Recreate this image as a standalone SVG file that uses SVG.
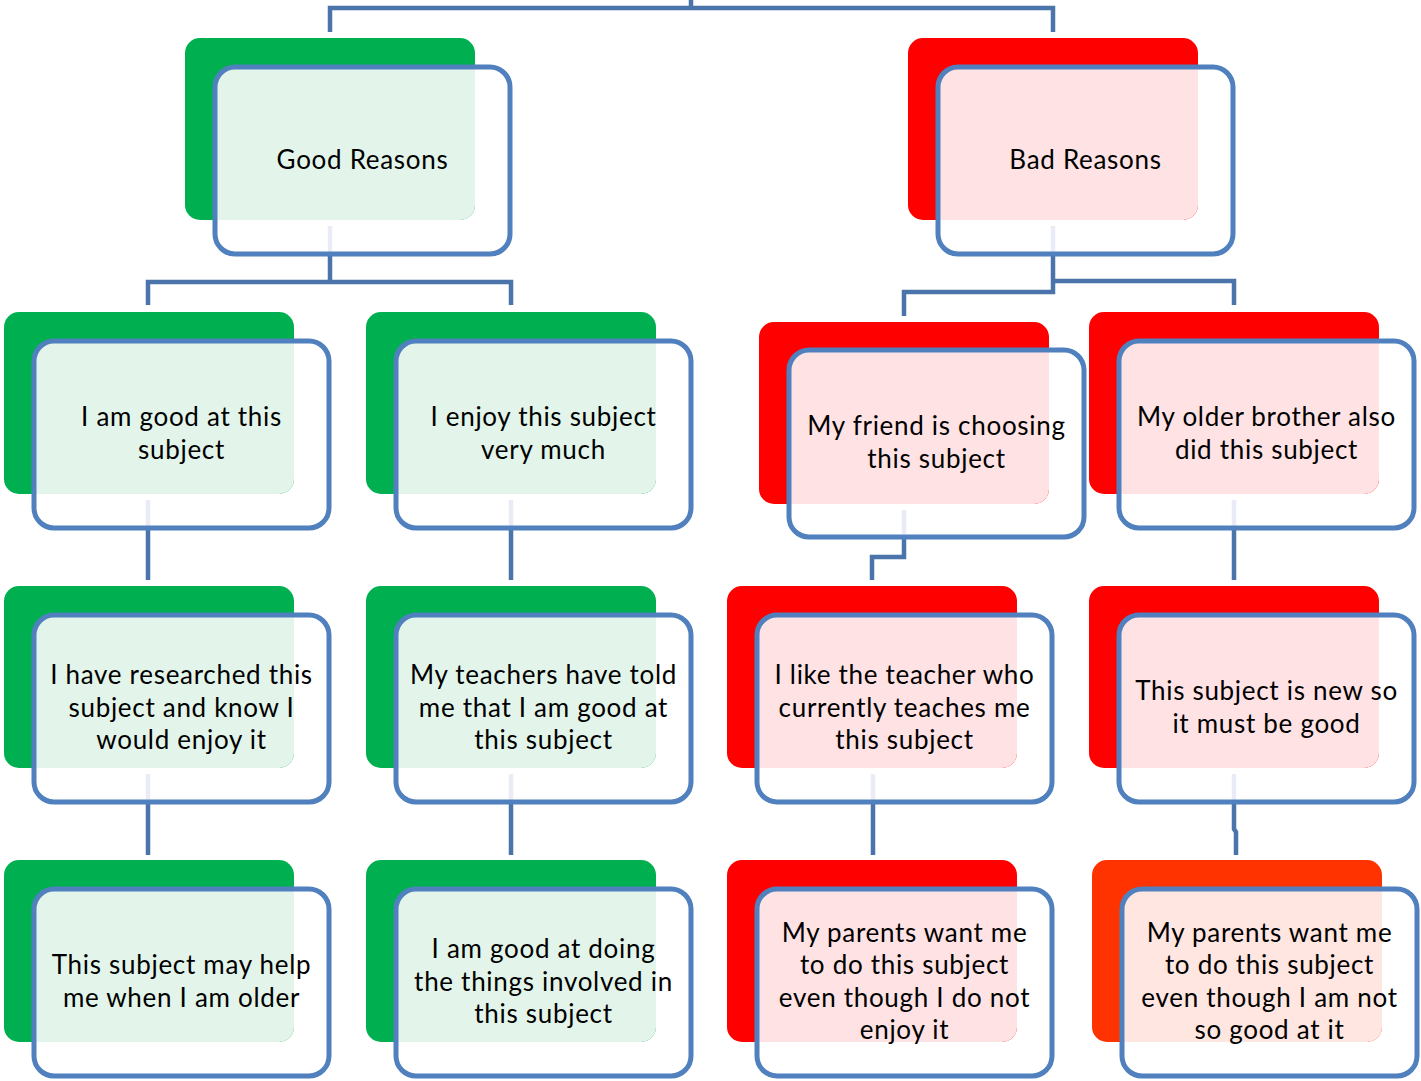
<svg xmlns="http://www.w3.org/2000/svg" width="1421" height="1081" viewBox="0 0 1421 1081">
<defs>
<clipPath id="bk" clipPathUnits="userSpaceOnUse"><rect width="290" height="182" rx="15"/></clipPath>
</defs>
<style>
.bg-g{fill:#00B050}.bg-r{fill:#FF0000}.bg-o{fill:#FF3300}
.lf-g{fill:#E3F5EA}.lf-r{fill:#FFE3E4}.lf-o{fill:#FFE6E1}
.ol{fill:none;stroke:#5080BD;stroke-width:5}
.c{fill:none;stroke:#4A74AA;stroke-width:4.5}
.f{fill:none;stroke:#E9ECF6;stroke-width:4.5}
.t{font-family:Lato,"Liberation Sans",sans-serif;font-size:26px;letter-spacing:0.7px;fill:#000;text-anchor:middle}
</style>
<rect width="1421" height="1081" fill="#fff"/>
<g id="connectors">
<path class="c" d="M691,0V8M330,32V8H1053V32"/>
<path class="f" d="M330,226V252"/>
<path class="c" d="M330,254V282M148,305V282H511V305"/>
<path class="f" d="M1053,226V252"/>
<path class="c" d="M1053,254V292H904V316M1053,281H1234V305"/>
<path class="f" d="M148,500V526M511,500V526M1234,500V526M904,510V534"/>
<path class="c" d="M148,530V580M511,530V580M1234,530V580M904,538V557H872V580"/>
<path class="f" d="M148,774V800M511,774V800M873,774V800M1234,774V800"/>
<path class="c" d="M148,804V855M511,804V855M873,804V855M1234,804V829L1236,832V855"/>
</g>
<g id="n-good" transform="translate(185,38)">
<rect class="bg-g" width="290" height="182" rx="15"/>
<rect class="lf-g" x="30" y="29" width="295" height="187" rx="20" clip-path="url(#bk)"/>
<rect class="ol" x="30" y="29" width="295" height="187" rx="20"/>
<text class="t" x="177.5" y="130.5">Good Reasons</text>
</g>
<g id="n-bad" transform="translate(908,38)">
<rect class="bg-r" width="290" height="182" rx="15"/>
<rect class="lf-r" x="30" y="29" width="295" height="187" rx="20" clip-path="url(#bk)"/>
<rect class="ol" x="30" y="29" width="295" height="187" rx="20"/>
<text class="t" x="177.5" y="130.5">Bad Reasons</text>
</g>
<g id="n-goodat" transform="translate(4,312)">
<rect class="bg-g" width="290" height="182" rx="15"/>
<rect class="lf-g" x="30" y="29" width="295" height="187" rx="20" clip-path="url(#bk)"/>
<rect class="ol" x="30" y="29" width="295" height="187" rx="20"/>
<text class="t" x="177.5" y="114.25">I am good at this</text>
<text class="t" x="177.5" y="146.75">subject</text>
</g>
<g id="n-enjoy" transform="translate(366,312)">
<rect class="bg-g" width="290" height="182" rx="15"/>
<rect class="lf-g" x="30" y="29" width="295" height="187" rx="20" clip-path="url(#bk)"/>
<rect class="ol" x="30" y="29" width="295" height="187" rx="20"/>
<text class="t" x="177.5" y="114.25">I enjoy this subject</text>
<text class="t" x="177.5" y="146.75">very much</text>
</g>
<g id="n-friend" transform="translate(759,322)">
<rect class="bg-r" width="290" height="182" rx="15"/>
<rect class="lf-r" x="30" y="28" width="295" height="187" rx="20" clip-path="url(#bk)"/>
<rect class="ol" x="30" y="28" width="295" height="187" rx="20"/>
<text class="t" x="177.5" y="113.25">My friend is choosing</text>
<text class="t" x="177.5" y="145.75">this subject</text>
</g>
<g id="n-brother" transform="translate(1089,312)">
<rect class="bg-r" width="290" height="182" rx="15"/>
<rect class="lf-r" x="30" y="29" width="295" height="187" rx="20" clip-path="url(#bk)"/>
<rect class="ol" x="30" y="29" width="295" height="187" rx="20"/>
<text class="t" x="177.5" y="114.25">My older brother also</text>
<text class="t" x="177.5" y="146.75">did this subject</text>
</g>
<g id="n-researched" transform="translate(4,586)">
<rect class="bg-g" width="290" height="182" rx="15"/>
<rect class="lf-g" x="30" y="29" width="295" height="187" rx="20" clip-path="url(#bk)"/>
<rect class="ol" x="30" y="29" width="295" height="187" rx="20"/>
<text class="t" x="177.5" y="98">I have researched this</text>
<text class="t" x="177.5" y="130.5">subject and know I</text>
<text class="t" x="177.5" y="163">would enjoy it</text>
</g>
<g id="n-teachers" transform="translate(366,586)">
<rect class="bg-g" width="290" height="182" rx="15"/>
<rect class="lf-g" x="30" y="29" width="295" height="187" rx="20" clip-path="url(#bk)"/>
<rect class="ol" x="30" y="29" width="295" height="187" rx="20"/>
<text class="t" x="177.5" y="98">My teachers have told</text>
<text class="t" x="177.5" y="130.5">me that I am good at</text>
<text class="t" x="177.5" y="163">this subject</text>
</g>
<g id="n-liketeacher" transform="translate(727,586)">
<rect class="bg-r" width="290" height="182" rx="15"/>
<rect class="lf-r" x="30" y="29" width="295" height="187" rx="20" clip-path="url(#bk)"/>
<rect class="ol" x="30" y="29" width="295" height="187" rx="20"/>
<text class="t" x="177.5" y="98">I like the teacher who</text>
<text class="t" x="177.5" y="130.5">currently teaches me</text>
<text class="t" x="177.5" y="163">this subject</text>
</g>
<g id="n-new" transform="translate(1089,586)">
<rect class="bg-r" width="290" height="182" rx="15"/>
<rect class="lf-r" x="30" y="29" width="295" height="187" rx="20" clip-path="url(#bk)"/>
<rect class="ol" x="30" y="29" width="295" height="187" rx="20"/>
<text class="t" x="177.5" y="114.25">This subject is new so</text>
<text class="t" x="177.5" y="146.75">it must be good</text>
</g>
<g id="n-older" transform="translate(4,860)">
<rect class="bg-g" width="290" height="182" rx="15"/>
<rect class="lf-g" x="30" y="29" width="295" height="187" rx="20" clip-path="url(#bk)"/>
<rect class="ol" x="30" y="29" width="295" height="187" rx="20"/>
<text class="t" x="177.5" y="114.25">This subject may help</text>
<text class="t" x="177.5" y="146.75">me when I am older</text>
</g>
<g id="n-doing" transform="translate(366,860)">
<rect class="bg-g" width="290" height="182" rx="15"/>
<rect class="lf-g" x="30" y="29" width="295" height="187" rx="20" clip-path="url(#bk)"/>
<rect class="ol" x="30" y="29" width="295" height="187" rx="20"/>
<text class="t" x="177.5" y="98">I am good at doing</text>
<text class="t" x="177.5" y="130.5">the things involved in</text>
<text class="t" x="177.5" y="163">this subject</text>
</g>
<g id="n-parents1" transform="translate(727,860)">
<rect class="bg-r" width="290" height="182" rx="15"/>
<rect class="lf-r" x="30" y="29" width="295" height="187" rx="20" clip-path="url(#bk)"/>
<rect class="ol" x="30" y="29" width="295" height="187" rx="20"/>
<text class="t" x="177.5" y="81.75">My parents want me</text>
<text class="t" x="177.5" y="114.25">to do this subject</text>
<text class="t" x="177.5" y="146.75">even though I do not</text>
<text class="t" x="177.5" y="179.25">enjoy it</text>
</g>
<g id="n-parents2" transform="translate(1092,860)">
<rect class="bg-o" width="290" height="182" rx="15"/>
<rect class="lf-o" x="30" y="29" width="295" height="187" rx="20" clip-path="url(#bk)"/>
<rect class="ol" x="30" y="29" width="295" height="187" rx="20"/>
<text class="t" x="177.5" y="81.75">My parents want me</text>
<text class="t" x="177.5" y="114.25">to do this subject</text>
<text class="t" x="177.5" y="146.75">even though I am not</text>
<text class="t" x="177.5" y="179.25">so good at it</text>
</g>
</svg>
